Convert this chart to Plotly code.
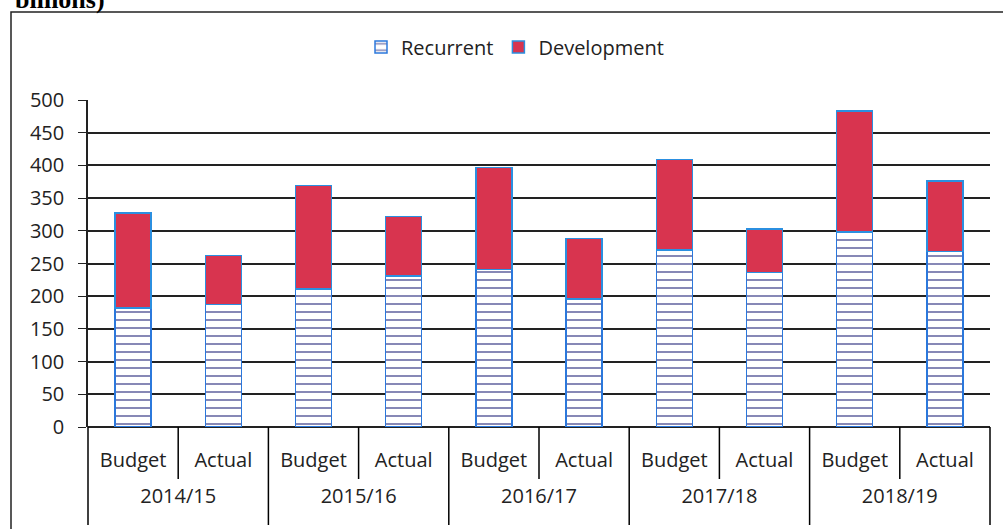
import plotly.graph_objects as go

years = ["2014/15", "2015/16", "2016/17", "2017/18", "2018/19"]
kinds = ["Budget", "Actual"]

recurrent = [182, 187, 211, 231, 241, 196, 271, 236, 298, 268]
development = [145, 75, 158, 91, 156, 92, 138, 67, 185, 108]

y_ticks = [0, 50, 100, 150, 200, 250, 300, 350, 400, 450, 500]

# the leading <br> pushes the year row further below the Budget/Actual row
outer = ["<br>" + y for y in years for _ in kinds]
inner = [k for _ in years for k in kinds]
x = [outer, inner]

FONT = "Open Sans"
W, H = 1003, 529
L, R, T, B = 88, 13, 100, 102
pw, ph = W - L - R, H - T - B

fig = go.Figure()
fig.add_trace(go.Bar(
    x=x, y=recurrent, name="Recurrent",
    marker=dict(color="white",
                pattern=dict(shape="-", fgcolor="#10126e", bgcolor="white",
                             size=8, solidity=0.25),
                line=dict(color="#2b78dc", width=1.5)),
))
fig.add_trace(go.Bar(
    x=x, y=development, name="Development",
    marker=dict(color="#d8344f", line=dict(color="#2b8fe0", width=1.5)),
))

# small dividers between Budget and Actual inside each year
n = len(recurrent)
for k in range(1, n, 2):
    fig.add_shape(type="line", xref="paper", yref="paper",
                  x0=k / n, x1=k / n, y0=0, y1=-52 / ph,
                  line=dict(color="black", width=1.5))
# dividers between years, running to the bottom
for k in range(0, n + 1, 2):
    fig.add_shape(type="line", xref="paper", yref="paper",
                  x0=k / n, x1=k / n, y0=0, y1=-98 / ph,
                  line=dict(color="black", width=1.5))

# outer frame of the chart
fig.add_shape(type="rect", xref="paper", yref="paper",
              x0=(11 - L) / pw, x1=(1012 - L) / pw,
              y0=-(B + 5) / ph, y1=(ph + T - 12) / ph,
              line=dict(color="#222", width=1.5))

fig.add_annotation(text="<b>billions)</b>", xref="paper", yref="paper",
                   x=(13 - L) / pw, y=(ph + T) / ph,
                   xanchor="left", yanchor="middle", showarrow=False,
                   font=dict(family="Liberation Serif", size=26, color="black"))

fig.update_layout(
    width=W, height=H,
    margin=dict(l=L, r=R, t=T, b=B, autoexpand=False),
    barmode="stack", bargap=0.6,
    plot_bgcolor="white", paper_bgcolor="white",
    font=dict(family=FONT, size=20, color="#222"),
    legend=dict(orientation="h", x=(515 - L) / pw, xanchor="center",
                y=(ph + T - 47) / ph, yanchor="middle",
                font=dict(size=20), traceorder="normal", itemwidth=30),
    xaxis=dict(type="multicategory", showgrid=False, ticks="",
               showline=False, showdividers=False, automargin=False,
               ticklabelstandoff=19, tickfont=dict(size=20)),
    yaxis=dict(range=[0, 500], tickvals=y_ticks, showgrid=True,
               gridcolor="#222", gridwidth=1.5, zeroline=True,
               zerolinecolor="#222", zerolinewidth=1.5,
               showline=True, linecolor="#222", linewidth=1.5,
               ticks="outside", ticklen=8, tickcolor="#222",
               ticklabelstandoff=10, automargin=False,
               tickfont=dict(size=20)),
)

# drop the browser's default page margin so the chart sits at the corner
fig.write_html("out.html", config={"displayModeBar": False},
               post_script="document.body.style.margin='0';")
